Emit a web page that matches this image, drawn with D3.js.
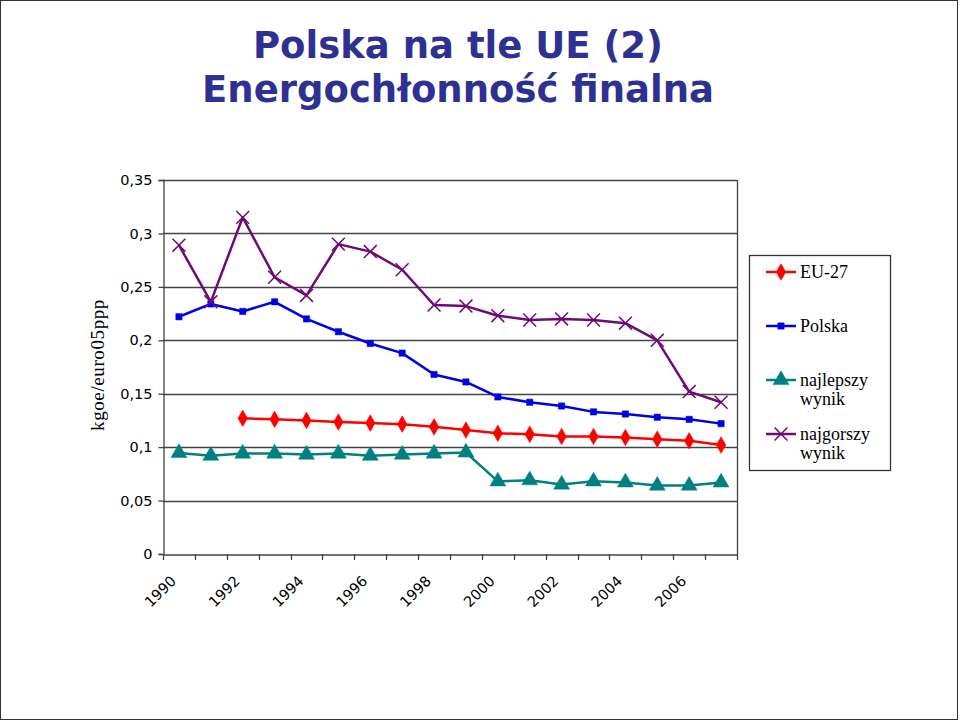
<!DOCTYPE html>
<html><head><meta charset="utf-8">
<script src="https://cdn.jsdelivr.net/npm/d3@7"></script>
<style>html,body{margin:0;padding:0;background:#fff;}svg{display:block;}</style>
</head><body>
<script>
const years = [1990,1991,1992,1993,1994,1995,1996,1997,1998,1999,2000,2001,2002,2003,2004,2005,2006,2007];
const xTickLabels = ["1990","1992","1994","1996","1998","2000","2002","2004","2006"];
const yTicks = [0,0.05,0.1,0.15,0.2,0.25,0.3,0.35];
const yTickLabels = ["0","0,05","0,1","0,15","0,2","0,25","0,3","0,35"];
const eu27 = [null,null,0.127,0.126,0.125,0.1235,0.1225,0.1215,0.119,0.116,0.113,0.112,0.110,0.110,0.109,0.1075,0.106,0.102];
const polska = [0.222,0.234,0.227,0.236,0.220,0.208,0.197,0.188,0.168,0.161,0.147,0.142,0.1385,0.133,0.131,0.128,0.126,0.122];
const najlepszy = [0.0945,0.092,0.094,0.094,0.093,0.094,0.092,0.093,0.094,0.095,0.068,0.069,0.065,0.068,0.067,0.064,0.064,0.067];
const najgorszy = [0.289,0.236,0.315,0.259,0.242,0.290,0.283,0.266,0.233,0.232,0.223,0.219,0.220,0.219,0.216,0.200,0.152,0.142];
const seriesNames = ["EU-27","Polska","najlepszy wynik","najgorszy wynik"];
const seriesColors = ["#FF0000","#0000E6","#008080","#6E0A78"];

const W = 960, H = 723;
const svg = d3.select("body").append("svg").attr("width", W).attr("height", H);
svg.append("rect").attr("x",0.5).attr("y",0.5).attr("width",957).attr("height",719)
  .attr("fill","#fff").attr("stroke","#333").attr("stroke-width",1);

// Title
const titleColor = "#2E3192";
svg.append("text").attr("x",458).attr("y",58).attr("text-anchor","middle")
  .attr("font-family","DejaVu Sans").attr("font-weight","bold").attr("font-size",37)
  .attr("fill",titleColor).text("Polska na tle UE (2)");
svg.append("text").attr("x",458).attr("y",102).attr("text-anchor","middle")
  .attr("font-family","DejaVu Sans").attr("font-weight","bold").attr("font-size",37)
  .attr("fill",titleColor).text("Energochłonność finalna");

const plot = {left:163, right:737, top:180, bottom:554};
const x = d3.scaleBand().domain(years).range([plot.left, plot.right]).padding(0);
const y = d3.scaleLinear().domain([0,0.35]).range([plot.bottom, plot.top]);
const cx = d => x(d) + x.bandwidth()/2;

const g = svg.append("g");
// gridlines
g.selectAll("line.grid").data(yTicks.filter(t=>t>0)).join("line")
  .attr("x1",plot.left).attr("x2",plot.right)
  .attr("y1",d=>Math.round(y(d))+0.5).attr("y2",d=>Math.round(y(d))+0.5)
  .attr("stroke","#444").attr("stroke-width",1.3);
// right border
g.append("line").attr("x1",plot.right+0.5).attr("x2",plot.right+0.5)
  .attr("y1",plot.top).attr("y2",plot.bottom).attr("stroke","#444").attr("stroke-width",1.3);

// y axis
const yAxis = d3.axisLeft(y).tickValues(yTicks).tickSize(5).tickPadding(6)
  .tickFormat((d,i)=>yTickLabels[i]);
const ya = svg.append("g").attr("transform",`translate(${plot.left+0.5},0)`).call(yAxis);
ya.select(".domain").attr("stroke","#444").attr("stroke-width",1.3);
ya.selectAll(".tick line").attr("stroke","#444").attr("stroke-width",1.3);
ya.selectAll(".tick text").attr("font-family","DejaVu Sans").attr("font-size",14.5).attr("fill","#000");

// x axis
const xAxis = d3.axisBottom(x).tickSize(0).tickFormat("");
const xa = svg.append("g").attr("transform",`translate(0,${plot.bottom+0.5})`).call(xAxis);
xa.select(".domain").attr("stroke","#444").attr("stroke-width",1.3);
// band boundary ticks
const bounds = years.map(d=>x(d)).concat([plot.right]);
svg.append("g").selectAll("line").data(bounds).join("line")
  .attr("x1",d=>Math.round(d)+0.5).attr("x2",d=>Math.round(d)+0.5)
  .attr("y1",plot.bottom).attr("y2",plot.bottom+6).attr("stroke","#444").attr("stroke-width",1.3);
// rotated labels
svg.append("g").selectAll("text").data(xTickLabels).join("text")
  .attr("transform",d=>`translate(${cx(+d)-2},${plot.bottom+28}) rotate(-45)`)
  .attr("text-anchor","end")
  .attr("font-family","DejaVu Sans").attr("font-size",14.5).attr("fill","#000")
  .text(d=>d);

// y axis title
svg.append("text").attr("transform",`translate(104,365) rotate(-90)`)
  .attr("text-anchor","middle").attr("font-family","Liberation Serif").attr("font-size",19)
  .attr("letter-spacing",0.6).attr("fill","#000").text("kgoe/euro05ppp");

// series
const allSeries = [eu27, polska, najlepszy, najgorszy];
const symbols = [d3.symbolDiamond, d3.symbolSquare, d3.symbolTriangle, d3.symbolTimes];
const symSizes = [80, 40, 110, 110];
const line = d3.line().defined(d=>d.v!=null).x(d=>cx(d.yr)).y(d=>y(d.v));

allSeries.forEach((vals,i)=>{
  const pts = years.map((yr,j)=>({yr, v:vals[j]}));
  svg.append("path").datum(pts).attr("d",line).attr("fill","none")
    .attr("stroke",seriesColors[i]).attr("stroke-width",2.5).attr("stroke-linejoin","round");
  const sym = d3.symbol().type(symbols[i]).size(symSizes[i]);
  svg.append("g").selectAll("path").data(pts.filter(p=>p.v!=null)).join("path")
    .attr("transform",p=>`translate(${cx(p.yr)},${y(p.v)})`)
    .attr("d",sym())
    .attr("fill", i===3 ? "none" : seriesColors[i])
    .attr("stroke", seriesColors[i])
    .attr("stroke-width", i===3 ? 1.5 : 0.5);
});

// legend
const lg = svg.append("g");
lg.append("rect").attr("x",749.5).attr("y",255.5).attr("width",141).attr("height",215)
  .attr("fill","#fff").attr("stroke","#333").attr("stroke-width",1.3);
const legendY = [272, 326, 380, 434];
seriesNames.forEach((name,i)=>{
  const ly = legendY[i];
  lg.append("line").attr("x1",766).attr("x2",796).attr("y1",ly).attr("y2",ly)
    .attr("stroke",seriesColors[i]).attr("stroke-width",2.5);
  lg.append("path").attr("transform",`translate(781,${ly})`)
    .attr("d",d3.symbol().type(symbols[i]).size(symSizes[i])())
    .attr("fill", i===3 ? "none" : seriesColors[i]).attr("stroke",seriesColors[i])
    .attr("stroke-width", i===3 ? 1.5 : 0.5);
  const words = name.split(" ");
  const t = lg.append("text").attr("x",800).attr("y",ly+6)
    .attr("font-family","Liberation Serif").attr("font-size",18).attr("fill","#000");
  words.forEach((w,k)=>{
    t.append("tspan").attr("x",800).attr("dy",k===0?0:19).text(w);
  });
});
</script>
</body></html>
